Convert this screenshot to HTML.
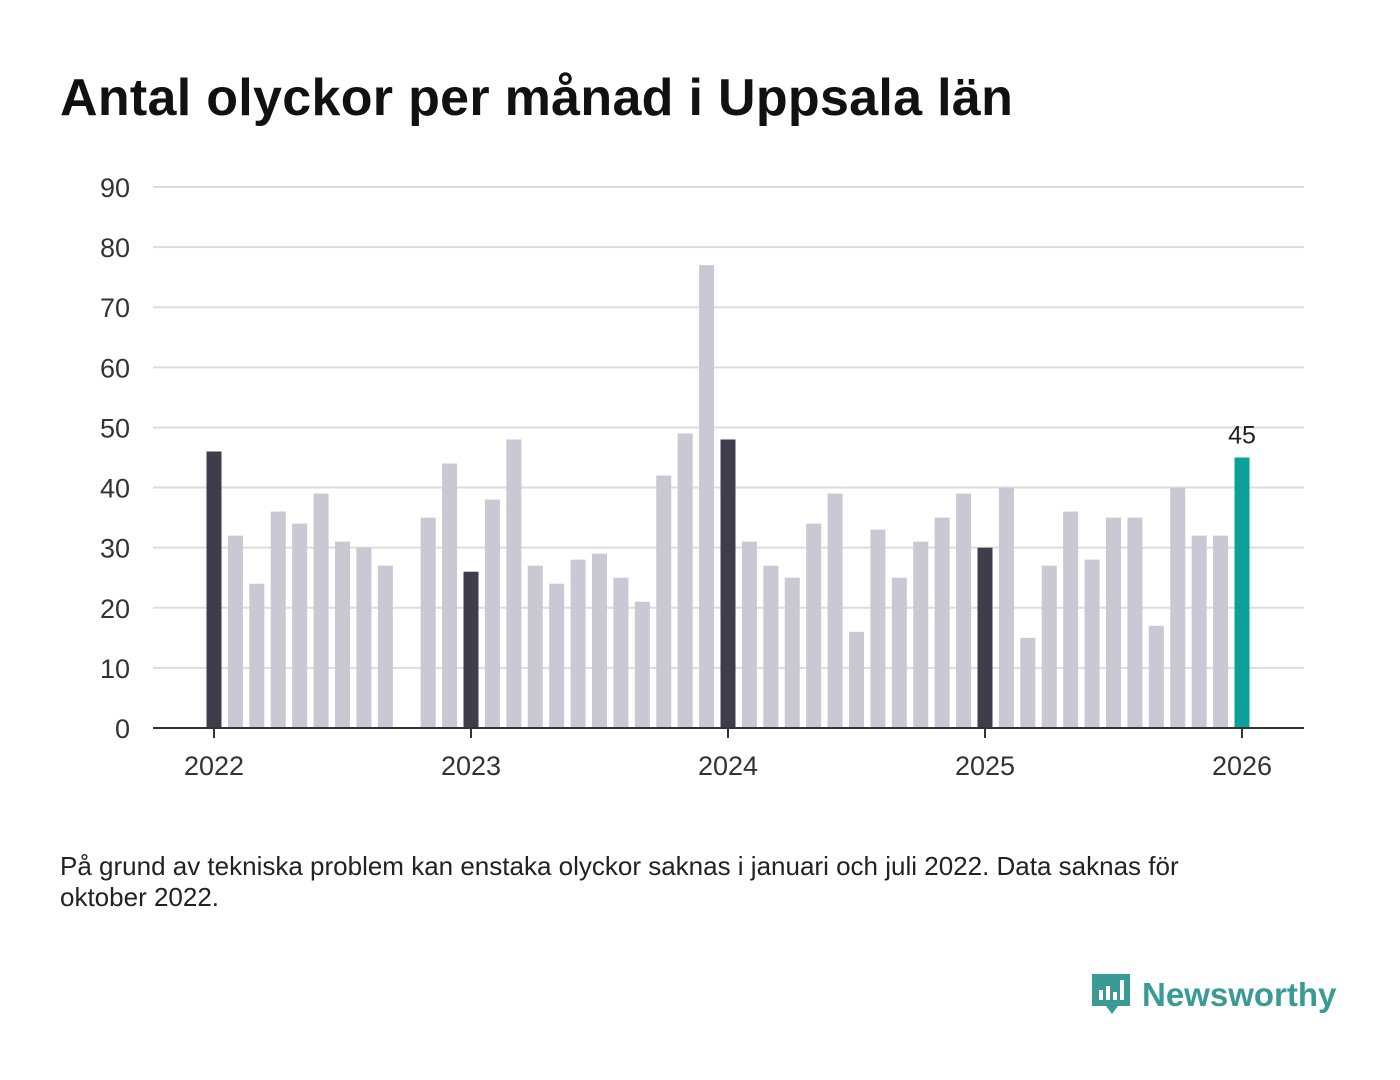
<!DOCTYPE html>
<html><head><meta charset="utf-8"><style>
body{margin:0;background:#fff;font-family:"Liberation Sans",sans-serif;}
#wrap{position:relative;width:1400px;height:1080px;overflow:hidden;}
h1{position:absolute;left:60px;top:68px;margin:0;font-size:52px;font-weight:bold;color:#111;letter-spacing:0.3px;}
#note{position:absolute;left:60px;top:851px;width:1210px;font-size:26px;line-height:31px;color:#222;}
#logo{position:absolute;left:1090px;top:968px;height:54px;display:flex;align-items:center;}
#logo span{font-size:33px;font-weight:bold;color:#3a9b94;margin-left:10px;}
</style></head><body>
<div id="wrap">
<h1>Antal olyckor per månad i Uppsala län</h1>
<svg id="chart" width="1400" height="820" style="position:absolute;left:0;top:0"></svg>
<div id="note">På grund av tekniska problem kan enstaka olyckor saknas i januari och juli 2022. Data saknas för oktober 2022.</div>
<div id="logo">
<svg width="42" height="50" viewBox="0 0 42 50"><path d="M2 4h38v32H28l-6 8-6-8H2z" fill="#3a9b94"/><rect x="9" y="20" width="4" height="10" fill="#fff"/><rect x="16" y="16" width="4" height="14" fill="#fff"/><rect x="23" y="22" width="4" height="8" fill="#fff"/><rect x="30" y="10" width="4" height="20" fill="#fff"/></svg>
<span>Newsworthy</span></div>
</div>
<script>
const months = ["2022-01","2022-02","2022-03","2022-04","2022-05","2022-06","2022-07","2022-08","2022-09","2022-10","2022-11","2022-12","2023-01","2023-02","2023-03","2023-04","2023-05","2023-06","2023-07","2023-08","2023-09","2023-10","2023-11","2023-12","2024-01","2024-02","2024-03","2024-04","2024-05","2024-06","2024-07","2024-08","2024-09","2024-10","2024-11","2024-12","2025-01","2025-02","2025-03","2025-04","2025-05","2025-06","2025-07","2025-08","2025-09","2025-10","2025-11","2025-12","2026-01"];
const values = [46,32,24,36,34,39,31,30,27,null,35,44,26,38,48,27,24,28,29,25,21,42,49,77,48,31,27,25,34,39,16,33,25,31,35,39,30,40,15,27,36,28,35,35,17,40,32,32,45];
const yTicks = [0,10,20,30,40,50,60,70,80,90];
const xTickLabels = ["2022","2023","2024","2025","2026"];
const NS="http://www.w3.org/2000/svg", svg=document.getElementById('chart');
const y = v => 728 - v*(541/90);
const x = i => 214 + i*(257/12);
function mk(t,a){const e=document.createElementNS(NS,t);for(const k in a)e.setAttribute(k,a[k]);svg.appendChild(e);return e;}
yTicks.forEach(t=>{
  if(t>0){const l=mk('line',{x1:153,x2:1304,y1:y(t),y2:y(t),stroke:'#ddd','stroke-width':2});
  
  }
  const tx=mk('text',{x:130,y:y(t)+10,'text-anchor':'end','font-size':27,fill:'#333','font-family':'Liberation Sans'});
  tx.textContent=t;
  
  
});
values.forEach((v,i)=>{
  if(v==null)return;
  const last=i===values.length-1, jan=months[i].endsWith('-01');
  const r=mk('rect',{x:x(i)-7.5,y:y(v),width:15,height:728-y(v),fill:last?'#0aa198':(jan?'#3f3d4c':'#c9c8d3')});
  
  
  if(last){const t=mk('text',{x:x(i),y:y(v)-14,'text-anchor':'middle','font-size':25,fill:'#222','font-family':'Liberation Sans'});t.textContent=v;
  
  }
});
const ax=mk('line',{x1:153,x2:1304,y1:728,y2:728,stroke:'#333','stroke-width':2});


xTickLabels.forEach((l,k)=>{
  const i=k*12;
  const tk=mk('line',{x1:x(i),x2:x(i),y1:728,y2:738,stroke:'#333','stroke-width':2});
  
  
  const t=mk('text',{x:x(i),y:775,'text-anchor':'middle','font-size':27,fill:'#333','font-family':'Liberation Sans'});
  t.textContent=l;
  
  
});
</script>
</body></html>
